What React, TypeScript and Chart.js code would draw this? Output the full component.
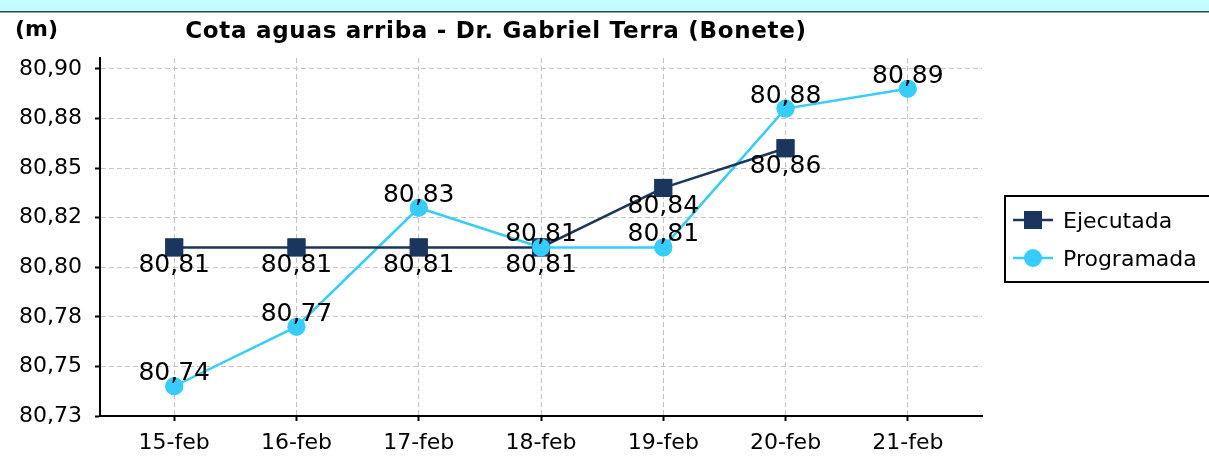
import React, { useEffect, useRef } from "react";
import { Chart, registerables } from "chart.js";

Chart.register(...registerables);

const CATEGORIES = ["15-feb", "16-feb", "17-feb", "18-feb", "19-feb", "20-feb", "21-feb"];
const EJECUTADA = [80.81, 80.81, 80.81, 80.81, 80.84, 80.86];
const PROGRAMADA = [80.74, 80.77, 80.83, 80.81, 80.81, 80.88, 80.89];
const Y_TICKS = [80.725, 80.75, 80.775, 80.8, 80.825, 80.85, 80.875, 80.9];
const Y_TICK_LABELS = ["80,73", "80,75", "80,78", "80,80", "80,82", "80,85", "80,88", "80,90"];
const SERIES_NAMES = ["Ejecutada", "Programada"];
const TITLE = "Cota aguas arriba - Dr. Gabriel Terra (Bonete)";
const UNIT = "(m)";

const FONT = '"DejaVu Sans", "Noto Sans", sans-serif';
const NAVY = "#1a365f";
const CYAN = "#36cdfc";

const fmt = (v: number) => v.toFixed(2).replace(".", ",");

const decorPlugin = {
  id: "decor",
  beforeDraw(chart: any) {
    const ctx = chart.ctx;
    ctx.save();
    ctx.fillStyle = "#ffffff";
    ctx.fillRect(0, 0, chart.width, chart.height);
    ctx.fillStyle = "#c4fdff";
    ctx.fillRect(0, 0, chart.width, 11);
    ctx.strokeStyle = "#2c4752";
    ctx.lineWidth = 1.5;
    ctx.beginPath();
    ctx.moveTo(0, 11.75);
    ctx.lineTo(chart.width, 11.75);
    ctx.stroke();
    ctx.restore();
  },
  afterDatasetsDraw(chart: any) {
    const ctx = chart.ctx;
    // markers on top of all lines
    chart.data.datasets.forEach((_ds: any, i: number) => {
      const meta = chart.getDatasetMeta(i);
      meta.data.forEach((el: any) => el.draw(ctx, chart.chartArea));
    });
    // value labels
    ctx.save();
    ctx.font = `25px ${FONT}`;
    ctx.fillStyle = "#000";
    ctx.textAlign = "center";
    ctx.textBaseline = "alphabetic";
    chart.data.datasets.forEach((ds: any, i: number) => {
      const meta = chart.getDatasetMeta(i);
      const below = ds.labelSide === "below";
      meta.data.forEach((el: any, j: number) => {
        const v = ds.data[j].y;
        const y = below ? el.y + 25 : el.y - 6;
        ctx.fillText(fmt(v), el.x, y);
      });
    });
    ctx.restore();
  },
  afterDraw(chart: any) {
    const ctx = chart.ctx;
    ctx.save();
    ctx.fillStyle = "#000";
    // unit
    ctx.font = `bold 22px ${FONT}`;
    ctx.textAlign = "left";
    ctx.textBaseline = "alphabetic";
    ctx.fillText(UNIT, 15, 36);
    // title
    ctx.font = `bold 23px ${FONT}`;
    (ctx as any).letterSpacing = "0.7px";
    ctx.textAlign = "center";
    ctx.fillText(TITLE, 496, 38);
    (ctx as any).letterSpacing = "0px";
    // legend
    const bx = 1005, by = 196, bh = 86;
    ctx.strokeStyle = "#000";
    ctx.lineWidth = 2;
    ctx.strokeRect(bx, by, chart.width - bx + 10, bh);
    const rows = [220, 258];
    chart.data.datasets.forEach((ds: any, i: number) => {
      const cy = rows[i];
      ctx.strokeStyle = ds.borderColor;
      ctx.lineWidth = 2.5;
      ctx.beginPath();
      ctx.moveTo(1013, cy);
      ctx.lineTo(1053, cy);
      ctx.stroke();
      ctx.fillStyle = ds.backgroundColor;
      if (ds.pointStyle === "rect") {
        ctx.fillRect(1033 - 9, cy - 9, 18, 18);
      } else {
        ctx.beginPath();
        ctx.arc(1033, cy, 9, 0, Math.PI * 2);
        ctx.fill();
      }
      ctx.fillStyle = "#000";
      ctx.font = `22px ${FONT}`;
      ctx.textAlign = "left";
      ctx.textBaseline = "alphabetic";
      ctx.fillText(ds.label, 1063, cy + 8);
    });
    ctx.restore();
  },
};

export default function App() {
  const ref = useRef<HTMLCanvasElement | null>(null);
  useEffect(() => {
    document.body.style.margin = "0";
    if (!ref.current) return;
    const gridOpts = {
      color: "#c2c2c2",
      lineWidth: 1,
      drawTicks: true,
      tickLength: 5,
      tickColor: "#000",
      tickWidth: 2,
      tickBorderDash: [],
    };
    const chart = new Chart(ref.current, {
      type: "line",
      data: {
        datasets: [
          {
            label: SERIES_NAMES[0],
            data: EJECUTADA.map((y, i) => ({ x: i, y })),
            borderColor: NAVY,
            backgroundColor: NAVY,
            borderWidth: 2.5,
            pointStyle: "rect",
            pointRadius: 12.7,
            pointBorderWidth: 0,
            pointHoverRadius: 12.7,
            tension: 0,
            labelSide: "below",
          } as any,
          {
            label: SERIES_NAMES[1],
            data: PROGRAMADA.map((y, i) => ({ x: i, y })),
            borderColor: CYAN,
            backgroundColor: CYAN,
            borderWidth: 2.5,
            pointStyle: "circle",
            pointRadius: 9,
            pointBorderWidth: 0,
            pointHoverRadius: 9,
            tension: 0,
            labelSide: "above",
          } as any,
        ],
      },
      options: {
        animation: false,
        responsive: true,
        maintainAspectRatio: false,
        events: [],
        layout: { padding: { top: 58, right: 227, bottom: 0, left: 0 } },
        plugins: {
          legend: { display: false },
          title: { display: false },
          tooltip: { enabled: false },
        },
        scales: {
          x: {
            type: "linear",
            min: -0.607,
            max: CATEGORIES.length - 1 + 0.607,
            afterBuildTicks: (scale: any) => {
              scale.ticks = CATEGORIES.map((_, i) => ({ value: i }));
            },
            afterFit: (scale: any) => {
              scale.height = 40;
            },
            ticks: {
              color: "#000",
              font: { family: FONT, size: 22 },
              padding: 9,
              maxRotation: 0,
              autoSkip: false,
              callback: (v: any) => CATEGORIES[Math.round(Number(v))] ?? "",
            },
            grid: gridOpts,
            border: { display: true, color: "#000", width: 2, dash: [5, 3] },
          },
          y: {
            type: "linear",
            min: 80.725,
            max: 80.9055,
            afterBuildTicks: (scale: any) => {
              scale.ticks = Y_TICKS.map((v) => ({ value: v }));
            },
            afterFit: (scale: any) => {
              scale.width = 100;
            },
            ticks: {
              color: "#000",
              font: { family: FONT, size: 22 },
              padding: 13,
              callback: (_v: any, i: number) => Y_TICK_LABELS[i],
            },
            grid: gridOpts,
            border: { display: true, color: "#000", width: 2, dash: [5, 3] },
          },
        },
      },
      plugins: [decorPlugin],
    } as any);
    return () => chart.destroy();
  }, []);
  return (
    <div style={{ width: 1209, height: 456, position: "relative" }}>
      <canvas ref={ref} />
    </div>
  );
}
